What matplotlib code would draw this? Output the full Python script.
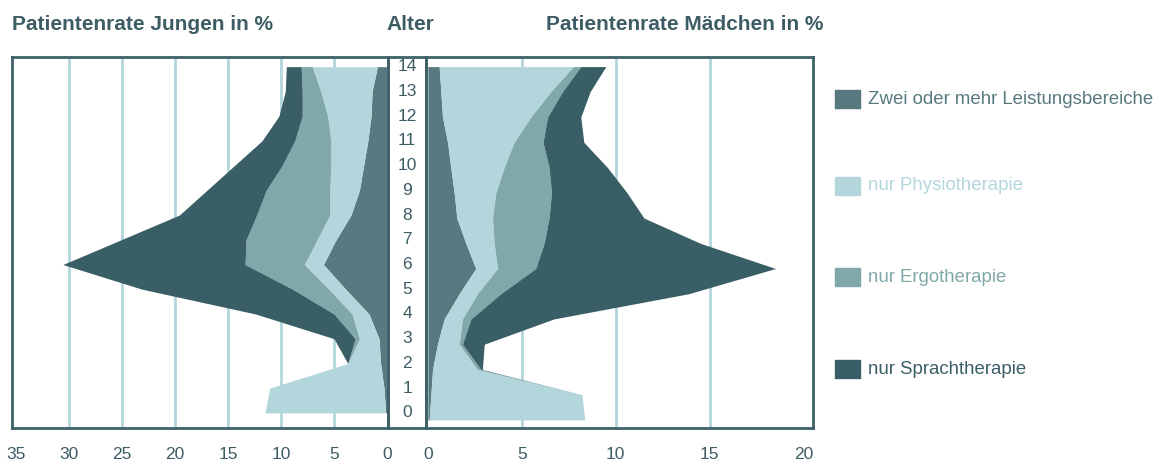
import numpy as np
import matplotlib.pyplot as plt
from matplotlib.patches import Rectangle

plt.rcParams['font.family'] = ['Liberation Sans', 'DejaVu Sans']

# Alter 0..14
ages = list(range(15))

# Patientenrate Jungen in % (je Kategorie, nicht kumuliert)
boys_zwei = [0.12, 0.28, 0.6, 0.75, 1.7, 3.9, 6.0, 4.8, 3.4, 2.6, 2.2, 1.8, 1.5, 1.4, 0.9]
boys_physio = [11.4, 10.8, 3.1, 1.85, 1.6, 1.6, 1.8, 1.8, 2.0, 2.8, 3.1, 3.5, 4.1, 4.85, 6.15]
boys_ergo = [0, 0, 0, 0.4, 1.7, 3.4, 5.6, 6.7, 6.9, 6.0, 4.6, 3.4, 2.4, 1.75, 1.05]
boys_sprach = [0, 0, 0, 2.0, 7.4, 14.2, 17.2, 11.8, 7.3, 5.6, 4.5, 3.1, 2.2, 1.6, 1.4]

# Patientenrate Maedchen in %
girls_zwei = [0.07, 0.16, 0.25, 0.51, 0.87, 1.67, 2.55, 2.02, 1.54, 1.4, 1.22, 1.05, 0.78, 0.69, 0.6]
girls_physio = [8.28, 8.04, 2.39, 1.16, 0.97, 0.97, 1.16, 1.51, 1.9, 2.22, 2.84, 3.54, 4.7, 5.85, 7.15]
girls_ergo = [0, 0, 0.18, 0.17, 0.45, 1.24, 2.03, 2.66, 3.01, 2.96, 2.39, 1.54, 0.89, 0.62, 0.39]
girls_sprach = [0, 0, 0.08, 1.16, 4.41, 10.0, 12.76, 8.31, 5.05, 4.02, 3.11, 2.17, 1.77, 1.47, 1.33]

categories = ["Zwei oder mehr Leistungsbereiche", "nur Physiotherapie",
              "nur Ergotherapie", "nur Sprachtherapie"]
colors = ["#57797f", "#b3d6dc", "#80a7a9", "#3a5e66"]

boys_ticks = [35, 30, 25, 20, 15, 10, 5, 0]
girls_ticks = [0, 5, 10, 15, 20]
boys_grid = [5, 10, 15, 20, 25, 30]
girls_grid = [5, 10, 15]

FRAME = "#3f6168"
TEXT = "#3d5c63"
GRID = "#b3d6dc"
W, H = 1155, 461

fig = plt.figure(figsize=(W / 100, H / 100), dpi=100)

def px_axes(x0, x1, y0, y1):
    return fig.add_axes([x0 / W, 1 - y1 / H, (x1 - x0) / W, (y1 - y0) / H])

ax_l = px_axes(12, 388, 57, 428)
ax_m = px_axes(388, 426, 57, 428)
ax_r = px_axes(426, 813, 57, 428)

def draw_side(ax, series, grid, ticks):
    for g in grid:
        ax.axvline(g, color=GRID, lw=2, zorder=0)
    cum = np.zeros(len(ages))
    for vals, col in zip(series, colors):
        new = cum + np.array(vals)
        ax.fill_betweenx(ages, cum, new, color=col, lw=0, zorder=2)
        cum = new
    ax.set_yticks([])
    ax.set_xticks(ticks)
    ax.set_xticklabels([str(t) for t in ticks])
    ax.tick_params(axis='x', length=0, pad=14, labelsize=12.5, labelcolor=TEXT)

draw_side(ax_l, [boys_zwei, boys_physio, boys_ergo, boys_sprach], boys_grid, boys_ticks)
ax_l.set_xlim(35.4, -0.1)
ax_l.set_ylim(-0.61, 14.39)

draw_side(ax_r, [girls_zwei, girls_physio, girls_ergo, girls_sprach], girls_grid, girls_ticks)
ax_r.set_xlim(-0.1, 20.5)
ax_r.set_ylim(-0.32, 14.38)

ax_m.set_xlim(0, 1)
ax_m.set_ylim(-0.61, 14.39)
ax_m.set_xticks([])
ax_m.set_yticks([])
for a in ages:
    ax_m.text(0.5, a, str(a), ha='center', va='center', fontsize=12.5, color=TEXT)

for ax in (ax_l, ax_m, ax_r):
    for s in ax.spines.values():
        s.set_color(FRAME)
        s.set_linewidth(2)
    ax.set_facecolor('none')

# Ueberschriften
fig.text(12 / W, 1 - 24 / H, "Patientenrate Jungen in %", fontsize=15,
         fontweight='bold', color=TEXT, ha='left', va='center')
fig.text(410 / W, 1 - 24 / H, "Alter", fontsize=15,
         fontweight='bold', color=TEXT, ha='center', va='center')
fig.text(546 / W, 1 - 24 / H, "Patientenrate Mädchen in %", fontsize=15,
         fontweight='bold', color=TEXT, ha='left', va='center')

# Legende
legend_y = [99, 186, 277, 369]
for name, col, y in zip(categories, colors, legend_y):
    fig.patches.append(Rectangle((835 / W, 1 - (y + 9) / H), 25 / W, 18 / H,
                                 transform=fig.transFigure, color=col))
    fig.text(868 / W, 1 - y / H, name, fontsize=13.4, color=col,
             ha='left', va='center')

fig.savefig("out.png", dpi=100)
